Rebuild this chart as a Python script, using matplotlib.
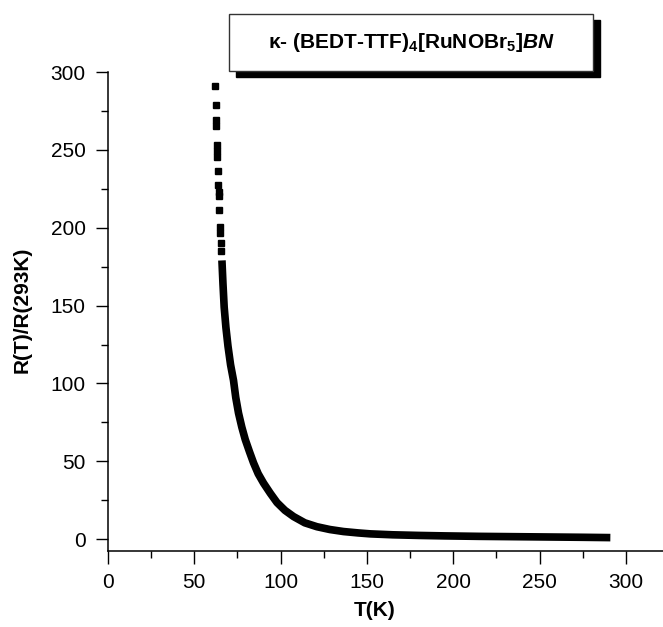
"""
Normalised resistance R(T)/R(293K) vs temperature
"""
import matplotlib
matplotlib.use("Agg")
import matplotlib.pyplot as plt
from matplotlib.patches import Rectangle

plt.rcParams["font.family"] = ["Liberation Sans", "DejaVu Sans"]
plt.rcParams["mathtext.fontset"] = "custom"
plt.rcParams["mathtext.rm"] = "Liberation Sans:bold"
plt.rcParams["mathtext.bf"] = "Liberation Sans:bold"
plt.rcParams["mathtext.it"] = "Liberation Sans:bold:italic"

# sparse points at the low-T end (separate squares)
t_sparse = [62.1, 62.5, 62.5, 62.6, 62.9, 63.0, 63.3, 63.5, 63.9, 64.1,
            64.3, 64.4, 64.9, 65.1, 65.4, 65.7]
r_sparse = [291.0, 278.9, 269.2, 265.5, 253.1, 249.5, 245.3, 236.4, 227.4,
            223.0, 220.3, 211.3, 200.4, 196.5, 190.1, 185.0]

# dense part of the curve
t_dense = [66.0, 66.6, 67.3, 68.3, 69.5, 71.0, 72.7, 74.0, 75.6, 77.5,
           79.5, 82.0, 84.3, 87.0, 90.1, 94.0, 97.9, 102.5, 107.5, 114.0,
           121.0, 128.5, 136.4, 145.0, 152.0, 165.0, 180.0, 195.0, 215.0,
           235.0, 255.0, 275.0, 291.0]
r_dense = [179.0, 164.0, 149.0, 136.0, 124.0, 112.0, 102.0, 91.0, 81.0,
           72.0, 64.0, 56.0, 49.0, 42.0, 36.0, 29.5, 23.5, 18.5, 14.5, 10.5,
           8.0, 6.2, 4.9, 4.0, 3.4, 2.8, 2.4, 2.1, 1.8, 1.6, 1.4, 1.2, 1.0]

x_ticks = [0, 50, 100, 150, 200, 250, 300]
y_ticks = [0, 50, 100, 150, 200, 250, 300]

fig = plt.figure(figsize=(6.63, 6.27), dpi=100)
ax = fig.add_axes([108 / 663, 76 / 627, 555 / 663, 479 / 627])

ax.plot(t_dense, r_dense, color="black", lw=5.5, solid_capstyle="butt",
        solid_joinstyle="round")
ax.plot(t_sparse, r_sparse, ls="none", marker="s", ms=5, color="black")

ax.set_xlim(0, 321.5)
ax.set_ylim(-7.6, 300)
ax.set_xticks(x_ticks)
ax.set_yticks(y_ticks)
ax.set_xticks([25, 75, 125, 175, 225, 275], minor=True)
ax.set_yticks([25, 75, 125, 175, 225, 275], minor=True)

for s in ["top", "right"]:
    ax.spines[s].set_visible(False)
for s in ["left", "bottom"]:
    ax.spines[s].set_linewidth(1.1)

ax.tick_params(which="major", direction="out", length=9, width=1,
               labelsize=15, pad=7)
ax.tick_params(which="minor", direction="out", length=5, width=1)

ax.set_xlabel("T(K)", fontsize=15, fontweight="bold")
ax.set_ylabel("R(T)/R(293K)", fontsize=15, fontweight="bold")
ax.xaxis.set_label_coords(0.481, -0.125)
ax.xaxis.label.set_va("center")
ax.yaxis.set_label_coords(-0.155, 0.503)
ax.yaxis.label.set_va("center")

# title box with drop shadow
W, H = 663, 627
shadow = Rectangle((236 / W, (H - 77) / H), 364 / W, 57 / H,
                   transform=fig.transFigure, facecolor="black",
                   edgecolor="black", zorder=5)
box = Rectangle((229 / W, (H - 71) / H), 364 / W, 57 / H,
                transform=fig.transFigure, facecolor="white",
                edgecolor="#333333", lw=1.0, zorder=6)
fig.patches.extend([shadow, box])
fig.text(411 / W, (H - 43) / H,
         r"κ- (BEDT-TTF)$_4$[RuNOBr$_5$]$\mathit{BN}$",
         fontsize=15, fontweight="bold", ha="center", va="center", zorder=7)

fig.savefig("out.png", dpi=100)
